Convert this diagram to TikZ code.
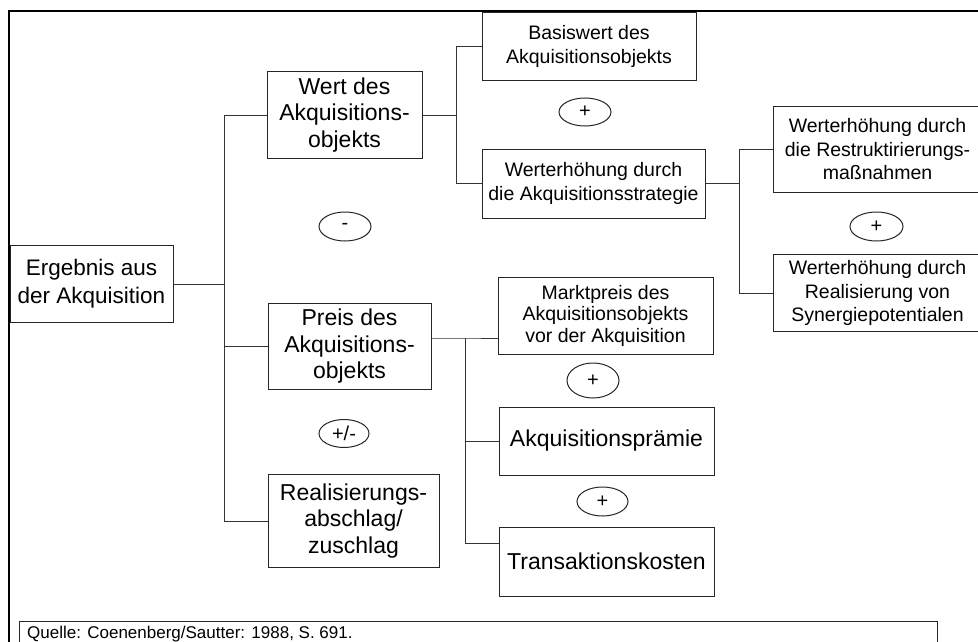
\documentclass[tikz,border=0pt]{standalone}
\usepackage{fontspec}
\setmainfont{Liberation Sans}
\usetikzlibrary{shapes.geometric}
\begin{document}
\begin{tikzpicture}[x=1pt,y=-1pt,
  box/.style={draw=black!85, line width=1pt, align=center, inner sep=0pt, text=black},
  big/.style={box, font=\fontsize{23}{26.5}\selectfont},
  mid/.style={box, font=\fontsize{19.5}{23.5}\selectfont},
  small/.style={box, font=\fontsize{19.5}{21.5}\selectfont},
  op/.style={draw=black!85, line width=1pt, ellipse, inner sep=0pt, text=black,
             font=\fontsize{20}{20}\selectfont},
  link/.style={draw=black!80, line width=1pt}]
\useasboundingbox (0,0) rectangle (978,642);

% frame
\draw[line width=2pt] (9,660) -- (9,11) -- (990,11);

% level 0 / 1
\node[box, font=\fontsize{22.5}{28}\selectfont, minimum width=163pt, minimum height=77pt] (erg) at (91.5,284) {Ergebnis aus\\der Akquisition};
\node[big, minimum width=155pt, minimum height=86pt] (wert) at (344.5,115) {Wert des\\Akquisitions-\\objekts};
\node[big, minimum width=163pt, minimum height=86pt] (preis) at (349.5,346.5) {Preis des\\Akquisitions-\\objekts};
\node[big, minimum width=171pt, minimum height=93pt] (real) at (353.5,521) {Realisierungs-\\abschlag/\\zuschlag};
\node[op, minimum width=52pt, minimum height=29pt] (minus) at (345,226.5) {-};
\node[op, minimum width=50pt, minimum height=28pt] (pm) at (344,433.5) {+/-};

% value branch
\node[mid, minimum width=214pt, minimum height=68pt] (basis) at (589,46.5) {Basiswert des\\Akquisitionsobjekts};
\node[op, minimum width=52pt, minimum height=28pt] (plusa) at (585,112) {+};
\node[mid, minimum width=223pt, minimum height=69pt] (strat) at (593.5,183.5) {Werterh\"ohung durch\\die Akquisitionsstrategie};
\node[mid, minimum width=209pt, minimum height=85pt] (restr) at (877.5,149.5) {Werterh\"ohung durch\\die Restruktirierungs-\\ma\ss nahmen};
\node[op, minimum width=53pt, minimum height=29pt] (plusb) at (876.5,226.5) {+};
\node[mid, minimum width=209pt, minimum height=77pt] (syn) at (877.5,293) {Werterh\"ohung durch\\Realisierung von\\Synergiepotentialen};

% price branch
\node[small, minimum width=215pt, minimum height=77pt] (markt) at (605.5,315.5) {Marktpreis des\\Akquisitionsobjekts\\vor der Akquisition};
\node[op, minimum width=52pt, minimum height=35pt] (plusc) at (593,380.5) {+};
\node[big, minimum width=215pt, minimum height=68pt] (praem) at (606.5,441) {Akquisitionspr\"amie};
\node[op, minimum width=51pt, minimum height=29pt] (plusd) at (602.5,501.5) {+};
\node[big, minimum width=215pt, minimum height=69pt] (trans) at (606.5,561.5) {Transaktionskosten};

% source line
\node[draw=black!85, line width=1pt, anchor=north west, minimum width=918pt, minimum height=40pt, inner sep=0pt] (srcbox) at (19,621) {};
\node[anchor=base west, inner sep=0pt, font=\fontsize{17}{17}\selectfont] (src) at (27,638) {Quelle: Coenenberg/Sautter: 1988, S. 691.};

% trunk
\coordinate (tx) at (224,0);
\draw[link] (erg.east) -- (erg.east -| tx);
\draw[link] (wert.west) -- (wert.west -| tx) -- (real.west -| tx) -- (real.west);
\draw[link] (preis.west) -- (preis.west -| tx);

% value branch connectors
\coordinate (wx) at (456,0);
\draw[link] (wert.east) -- (wert.east -| wx);
\draw[link] (basis.west) -- (basis.west -| wx) -- (strat.west -| wx) -- (strat.west);
\coordinate (sx) at (739,0);
\draw[link] (strat.east) -- (strat.east -| sx);
\draw[link] (restr.west) -- (restr.west -| sx) -- (syn.west -| sx) -- (syn.west);

% price branch connectors
\coordinate (pj) at (465,338);
\coordinate (pk) at (465,543);
\draw[link] (preis.east |- pj) -- (pj) -- (markt.west |- pj);
\draw[link] (pj) -- (pk) -- (trans.west |- pk);
\draw[link] (praem.west) -- (praem.west -| pj);
\end{tikzpicture}
\end{document}
